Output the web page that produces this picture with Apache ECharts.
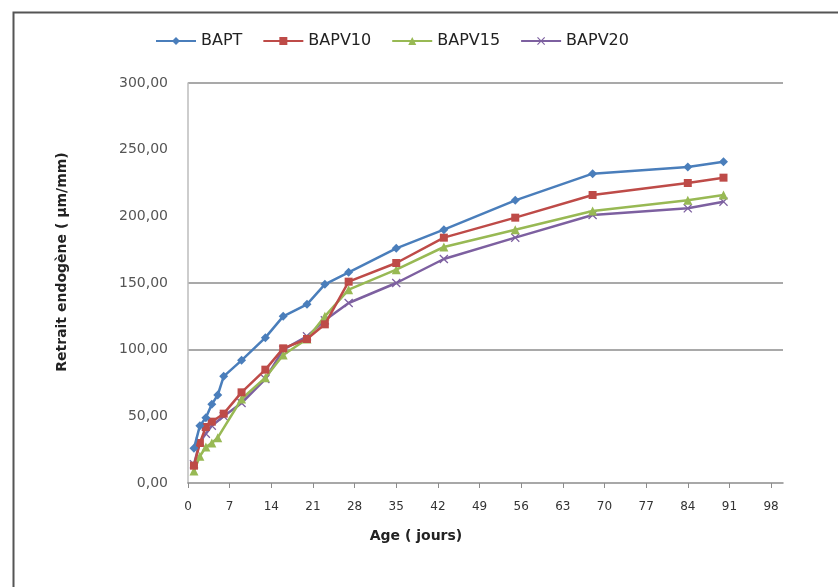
<!DOCTYPE html>
<html>
<head>
<meta charset="utf-8">
<script src="https://cdn.jsdelivr.net/npm/echarts@6/dist/echarts.min.js"></script>
<style>html,body{margin:0;padding:0;background:#fff;}#c{width:838px;height:587px;}</style>
</head>
<body>
<div id="c"></div>
<script>
var seriesNames = ['BAPT', 'BAPV10', 'BAPV15', 'BAPV20'];
var BAPT = [[1,26],[2,43],[3,49],[4,59],[5,66],[6,80],[9,92],[13,109],[16,125],[20,134],[23,149],[27,158],[35,176],[43,190],[55,212],[68,232],[84,237],[90,241]];
var BAPV10 = [[1,13],[2,30],[3,42],[4,46],[6,52],[9,68],[13,85],[16,101],[20,108],[23,119],[27,151],[35,165],[43,184],[55,199],[68,216],[84,225],[90,229]];
var BAPV15 = [[1,9],[2,20],[3,27],[4,30],[5,34],[9,63],[13,79],[16,96],[20,108],[23,125],[27,145],[35,160],[43,177],[55,190],[68,204],[84,212],[90,216]];
var BAPV20 = [[1,14],[2,31],[3,37],[4,43],[6,50],[9,60],[13,78],[16,100],[20,110],[23,122],[27,135],[35,150],[43,168],[55,184],[68,201],[84,206],[90,211]];
var xTicks = [0,7,14,21,28,35,42,49,56,63,70,77,84,91,98];
var yTicks = [0,50,100,150,200,250,300];

var colors = ['#4A7EBB', '#BE4B48', '#98B954', '#7D60A0'];
var symbols = ['diamond', 'rect', 'triangle',
  'path://M0,1L1,0L5,4L9,0L10,1L6,5L10,9L9,10L5,6L1,10L0,9L4,5Z'];
var sizes = [9, 8, 9, 9];
var data = [BAPT, BAPV10, BAPV15, BAPV20];
var FONT = 'DejaVu Sans';

var chart = echarts.init(document.getElementById('c'), null, {renderer: 'canvas'});
var option = {
  animation: false,
  backgroundColor: '#fff',
  legend: {
    top: 28, left: 150,
    itemWidth: 40, itemHeight: 10, itemGap: 20,
    textStyle: {fontFamily: FONT, fontSize: 16, color: '#222'},
    data: seriesNames
  },
  grid: {left: 188, right: 55, top: 83, bottom: 104, containLabel: false},
  xAxis: {
    type: 'value', min: 0, max: 100, interval: 7,
    axisLine: {show: true, lineStyle: {color: '#8c8c8c', width: 1.5}},
    axisTick: {show: true, length: 5, lineStyle: {color: '#8c8c8c'}},
    splitLine: {show: false},
    axisLabel: {
      margin: 18, fontFamily: FONT, fontSize: 12, color: '#333',
      showMaxLabel: false,
      formatter: function (v) { return xTicks.indexOf(v) >= 0 ? String(v) : ''; }
    }
  },
  yAxis: {
    type: 'value', min: 0, max: 300, interval: 50,
    axisLine: {show: true, lineStyle: {color: '#bdbdbd', width: 1.5}},
    axisTick: {show: false},
    splitLine: {show: true, lineStyle: {width: 1.5,
      color: ['rgba(0,0,0,0)', 'rgba(0,0,0,0)', '#8c8c8c', '#8c8c8c', 'rgba(0,0,0,0)', 'rgba(0,0,0,0)', '#8c8c8c']}},
    axisLabel: {
      margin: 20, fontFamily: FONT, fontSize: 14, color: '#555',
      formatter: function (v) { return yTicks.indexOf(v) >= 0 ? v.toFixed(2).replace('.', ',') : ''; }
    }
  },
  graphic: [
    {type: 'rect', left: 11, top: 10, shape: {width: 900, height: 700},
     style: {fill: 'none', stroke: '#555', lineWidth: 2}, z: 0, silent: true},
    {type: 'text', x: 62, y: 262, rotation: Math.PI / 2,
     style: {text: 'Retrait endogène ( µm/mm)', fontFamily: FONT, fontWeight: 'bold', fontSize: 14,
             fill: '#222', align: 'center', verticalAlign: 'middle'}},
    {type: 'text', x: 416, y: 536,
     style: {text: 'Age ( jours)', fontFamily: FONT, fontWeight: 'bold', fontSize: 14,
             fill: '#222', align: 'center', verticalAlign: 'middle'}}
  ],
  series: seriesNames.map(function (n, i) {
    return {
      name: n, type: 'line', data: data[i],
      symbol: symbols[i], symbolSize: sizes[i], showSymbol: true,
      itemStyle: {color: colors[i]},
      lineStyle: {color: colors[i], width: 2.5},
      smooth: false, z: 10 - i
    };
  })
};
chart.setOption(option);
</script>
</body>
</html>
